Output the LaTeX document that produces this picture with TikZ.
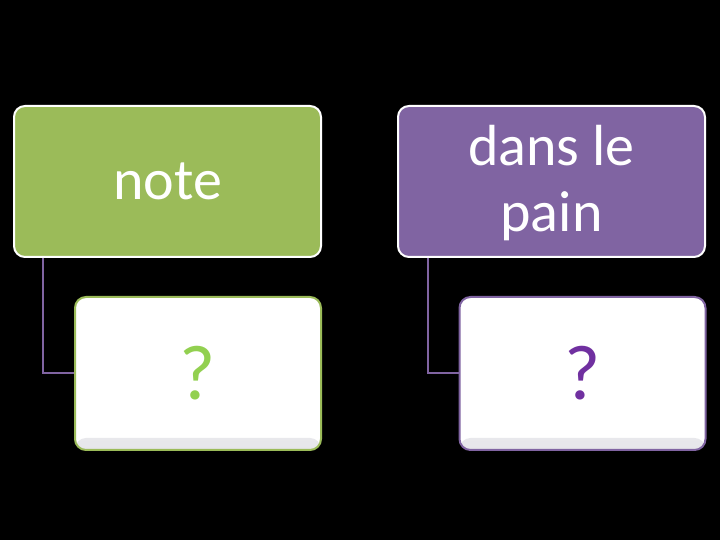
\documentclass[tikz,border=0pt]{standalone}
\usepackage{fontspec}
\setmainfont{Carlito}
\usetikzlibrary{calc}
\newcommand{\lowtext}[1]{\raisebox{-4pt}[\height][\depth]{\begin{tabular}{@{}c@{}}#1\end{tabular}}}
\begin{document}
\begin{tikzpicture}[x=1pt,y=1pt]

\definecolor{greenBOX}{HTML}{9bbb59}
\definecolor{purpleBOX}{HTML}{8064a2}
\definecolor{greenQ}{HTML}{92d050}
\definecolor{purpleQ}{HTML}{7030a0}
\definecolor{greyBOX}{HTML}{e6e6ea}

\tikzset{
 topbox/.style={draw=white, line width=2pt, rounded corners=11pt, minimum width=307pt, minimum height=151pt, text=white, font=\fontsize{58}{66}\selectfont, align=center, inner sep=0pt},
 qbox/.style={fill=white, line width=2pt, rounded corners=11pt, minimum width=246pt, minimum height=153pt, font=\fontsize{78}{80}\selectfont, inner sep=0pt,
  path picture={\shade[top color=white, bottom color=greyBOX] (path picture bounding box.south west) rectangle ($(path picture bounding box.south east)+(0,12pt)$);}},
 link/.style={purpleBOX, line width=2pt}
}

\fill[black] (0,0) rectangle (720,540);
\useasboundingbox (0,0) rectangle (720,540);

\node[topbox, fill=greenBOX] (note) at (167.5,358.5) {note};
\node[topbox, fill=purpleBOX] (pain) at (551.5,358.5) {\lowtext{dans le\\pain}};

\node[qbox, draw=greenBOX, text=greenQ] (qnote) at (198,166.5) {?};
\node[qbox, draw=purpleBOX, text=purpleQ] (qpain) at (582.5,166.5) {?};

\draw[link] ($(note.south west)+(30,0)$) |- (qnote.west);
\draw[link] ($(pain.south west)+(31,0)$) |- (qpain.west);

\end{tikzpicture}
\end{document}
